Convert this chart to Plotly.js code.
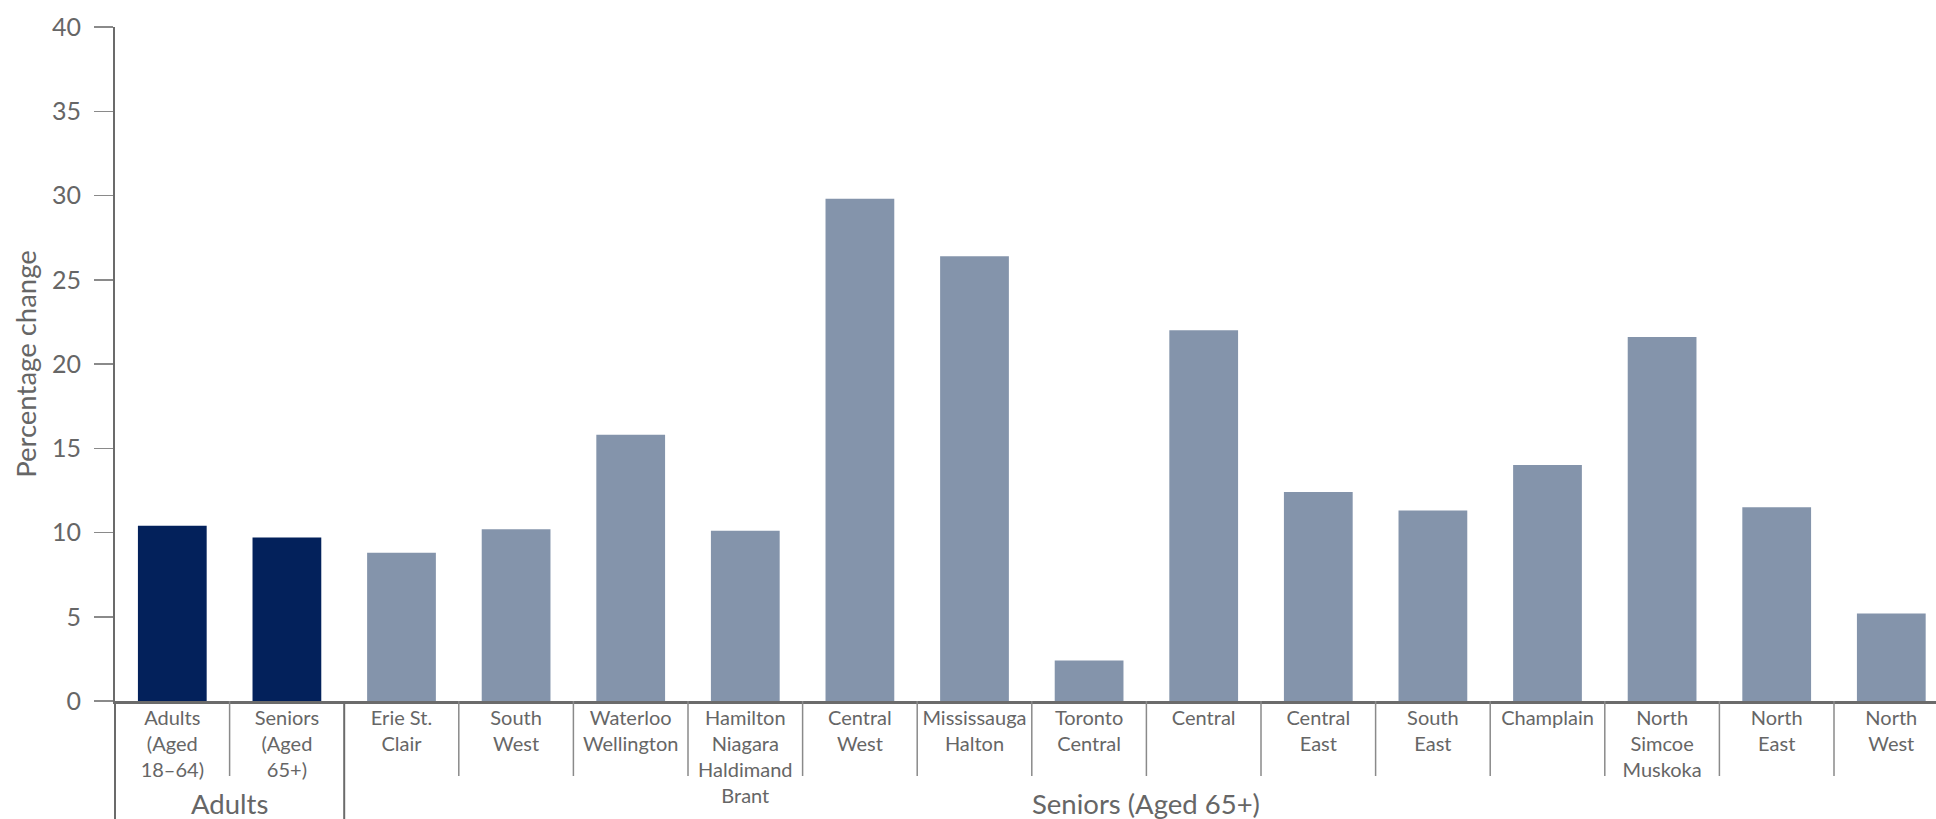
<!DOCTYPE html>
<html>
<head>
<meta charset="utf-8">
<script src="https://cdn.plot.ly/plotly-3.0.1.min.js"></script>
<style>html,body{margin:0;padding:0;background:#fff;overflow:hidden;}#chart{width:1936px;height:819px;}</style>
</head>
<body>
<div id="chart"></div>
<script>
// ---- data ----
const categories = [
  "Adults<br>(Aged<br>18–64)", "Seniors<br>(Aged<br>65+)",
  "Erie St.<br>Clair", "South<br>West", "Waterloo<br>Wellington",
  "Hamilton<br>Niagara<br>Haldimand<br>Brant", "Central<br>West",
  "Mississauga<br>Halton", "Toronto<br>Central", "Central",
  "Central<br>East", "South<br>East", "Champlain",
  "North<br>Simcoe<br>Muskoka", "North<br>East", "North<br>West"
];
const values = [10.4, 9.7, 8.8, 10.2, 15.8, 10.1, 29.8, 26.4, 2.4, 22.0, 12.4, 11.3, 14.0, 21.6, 11.5, 5.2];
const groupNames = ["Adults", "Seniors (Aged 65+)"];
const groupSizes = [2, 14];
const groupColors = ["#03215B", "#8494AB"];
const yTitle = "Percentage change";

// ---- build ----
const xIdx = categories.map((c, i) => i);
const colors = [];
groupSizes.forEach((n, g) => { for (let k = 0; k < n; k++) colors.push(groupColors[g]); });

const W = 1936, H = 819;
const M = {l: 115, r: 0, t: 27, b: 118};
const plotH = H - M.t - M.b;
const below = -M.b / plotH;

const lineCol = "#6b6b6b";
const shapes = [];
// left axis extension down to bottom
shapes.push({type: "line", xref: "paper", yref: "paper", x0: 0, x1: 0, y0: below, y1: 0,
  line: {color: lineCol, width: 2}});
// dividers between categories
let start = 0;
const groupStarts = [];
groupSizes.forEach(n => { groupStarts.push(start); start += n; });
for (let i = 1; i < categories.length; i++) {
  const isGroupEdge = groupStarts.includes(i);
  shapes.push({type: "line", xref: "x", yref: "paper", x0: i - 0.5, x1: i - 0.5,
    y0: isGroupEdge ? below : -75 / plotH, y1: 0,
    line: {color: isGroupEdge ? lineCol : "#8a8a8a", width: isGroupEdge ? 2 : 1.5}});
}
const annotations = groupNames.map((name, g) => ({
  text: name, xref: "x", yref: "paper",
  x: groupStarts[g] + (groupSizes[g] - 1) / 2, y: -102 / plotH,
  xanchor: "center", yanchor: "middle", showarrow: false,
  font: {family: "Lato, sans-serif", size: 27.5, color: "#666"}
}));

const trace = {
  type: "bar", x: xIdx, y: values, marker: {color: colors, line: {width: 0}},
  hoverinfo: "skip"
};

const layout = {
  width: W, height: H, margin: M,
  paper_bgcolor: "#fff", plot_bgcolor: "#fff",
  showlegend: false, bargap: 0.4,
  font: {family: "Lato, sans-serif", color: "#666"},
  xaxis: {
    tickmode: "array", tickvals: xIdx, ticktext: categories,
    range: [-0.5, -0.5 + (W - M.l - M.r) / 114.6],
    showline: true, linecolor: lineCol, linewidth: 2.5,
    ticks: "", showgrid: false, zeroline: false,
    tickfont: {family: "Lato, sans-serif", size: 20, color: "#666"},
    ticklabelstandoff: -3, tickangle: 0, automargin: false
  },
  yaxis: {
    range: [0, 40], dtick: 5, tick0: 0,
    showline: true, linecolor: lineCol, linewidth: 2,
    ticks: "outside", ticklen: 19, tickwidth: 1.5, tickcolor: "#8a8a8a",
    showgrid: false, zeroline: false,
    tickfont: {family: "Lato, sans-serif", size: 25, color: "#666"},
    ticklabelstandoff: 8, automargin: false,
    title: {text: yTitle, font: {family: "Lato, sans-serif", size: 27.5, color: "#666"}, standoff: 7}
  },
  shapes: shapes, annotations: annotations
};

Plotly.newPlot("chart", [trace], layout, {displayModeBar: false, staticPlot: true});
</script>
</body>
</html>
